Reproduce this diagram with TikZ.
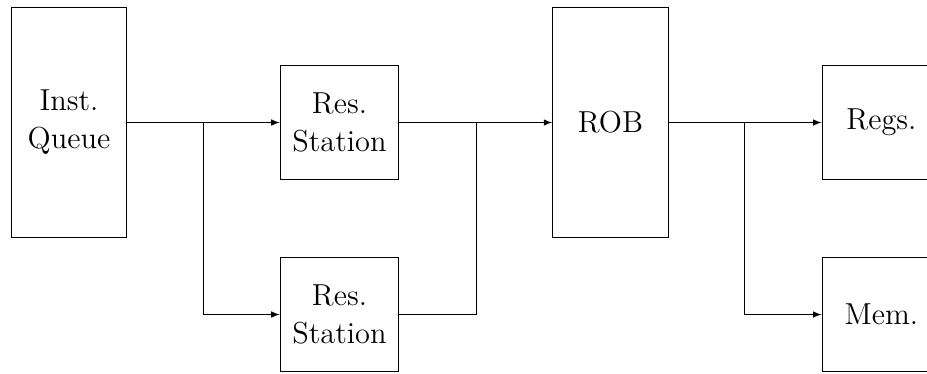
\documentclass[tikz,border=0pt]{standalone}
\usetikzlibrary{arrows,positioning}

\begin{document}
\begin{tikzpicture}[>=latex,
    unit/.style={draw, minimum width=1.98cm, minimum height=1.9cm, align=center, font=\Large},
    tallunit/.style={unit, minimum width=1.93cm, minimum height=3.83cm}]
    \useasboundingbox (0,0) rectangle (15.45,6.217);

%boxes

    \node[tallunit] (iq) at (1.15,4.175) {Inst.\\Queue};
    \node[unit] (rs1) at (5.658,4.175) {Res.\\Station};
    \node[unit] (rs2) at (5.658,0.975) {Res.\\Station};
    \node[tallunit] (rob) at (10.175,4.175) {ROB};
    \node[unit] (regs) at (14.69,4.175) {Regs.};
    \node[unit] (mem) at (14.69,0.975) {Mem.};

    %issue
    \coordinate (split) at (3.383,4.175);
    \draw[->] (iq) -- (rs1);
    \draw[->] (split) |- (rs2);

    %write back
    \coordinate (join) at (7.933,4.175);
    \draw[->] (rs1) -- (rob);
    \draw (rs2) -| (join);

    %commit
    \coordinate (commit) at (12.4,4.175);
    \draw[->] (rob) -- (regs);
    \draw[->] (commit) |- (mem);

\end{tikzpicture}
\end{document}
